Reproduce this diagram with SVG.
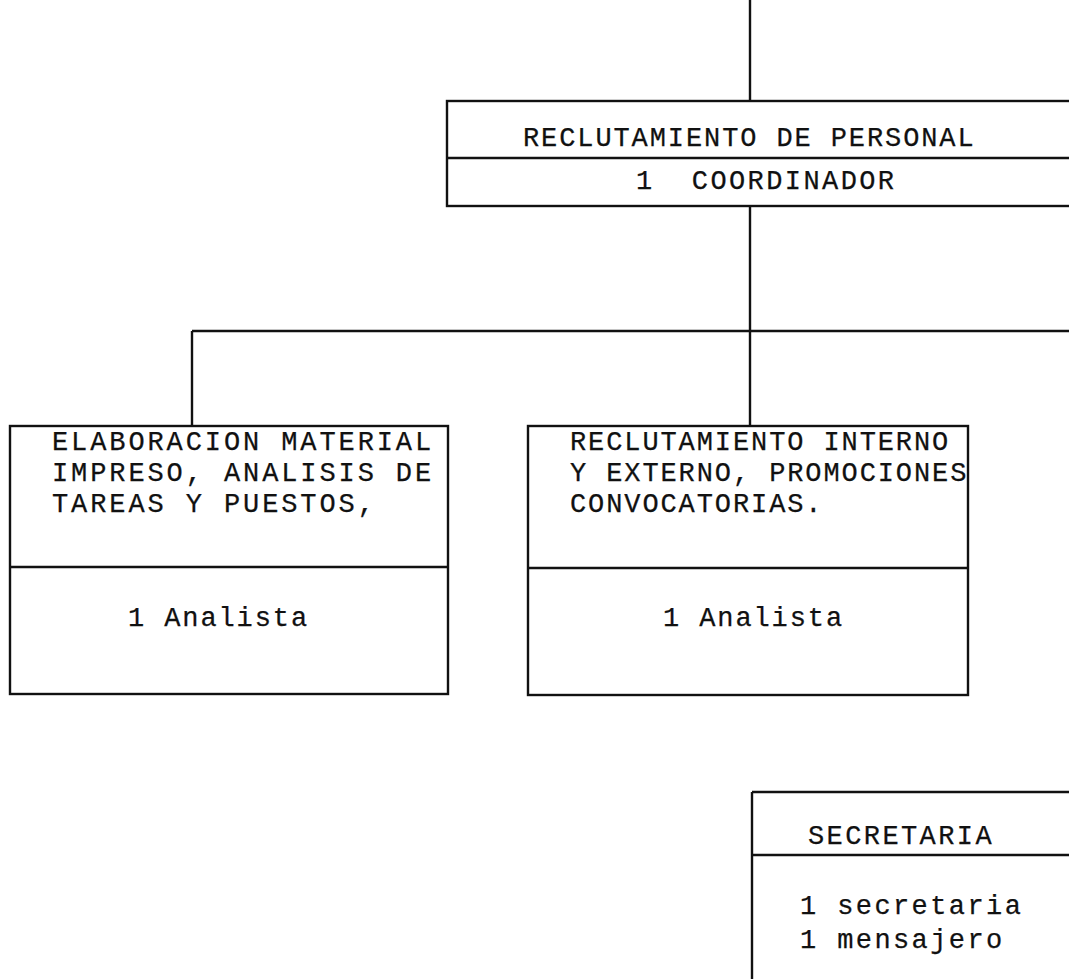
<svg xmlns="http://www.w3.org/2000/svg" width="1069" height="979" viewBox="0 0 1069 979">
  <style>
    .box { fill: none; stroke: #111; stroke-width: 2.4; }
    .line { fill: none; stroke: #111; stroke-width: 2.4; }
    .t { font-family: "Liberation Mono", "Courier New", monospace; font-size: 27px; letter-spacing: 1.9px; fill: #111; stroke: #111; stroke-width: 0.25; white-space: pre; }
    .wide { letter-spacing: 2.9px; }
    .mid { letter-spacing: 2.4px; }
  </style>
  <rect width="1069" height="979" fill="#fff"/>

  <!-- connectors -->
  <g id="connectors">
    <line class="line" x1="750" y1="0" x2="750" y2="101"/>
    <line class="line" x1="750" y1="206" x2="750" y2="426"/>
    <line class="line" x1="192" y1="331" x2="1075" y2="331"/>
    <line class="line" x1="192" y1="331" x2="192" y2="426"/>
  </g>

  <!-- head unit -->
  <g id="reclutamiento-personal">
    <rect class="box" x="447" y="101" width="640" height="105"/>
    <line class="line" x1="447" y1="158" x2="1075" y2="158"/>
    <text class="t" x="523" y="146">RECLUTAMIENTO DE PERSONAL</text>
    <text class="t mid" x="636" y="189" xml:space="preserve">1  COORDINADOR</text>
  </g>

  <!-- left unit -->
  <g id="elaboracion-material">
    <rect class="box" x="10" y="426" width="438" height="268"/>
    <line class="line" x1="10" y1="567" x2="448" y2="567"/>
    <text class="t wide" x="52" y="450">ELABORACION MATERIAL</text>
    <text class="t wide" x="52" y="481">IMPRESO, ANALISIS DE</text>
    <text class="t wide" x="52" y="512">TAREAS Y PUESTOS,</text>
    <text class="t" x="128" y="626">1 Analista</text>
  </g>

  <!-- middle unit -->
  <g id="reclutamiento-interno">
    <rect class="box" x="528" y="426" width="440" height="269"/>
    <line class="line" x1="528" y1="568" x2="968" y2="568"/>
    <text class="t" x="570" y="450">RECLUTAMIENTO INTERNO</text>
    <text class="t" x="570" y="481">Y EXTERNO, PROMOCIONES</text>
    <text class="t" x="570" y="512">CONVOCATORIAS.</text>
    <text class="t" x="663" y="626">1 Analista</text>
  </g>

  <!-- secretarial unit -->
  <g id="secretaria">
    <line class="line" x1="752" y1="792" x2="752" y2="985"/>
    <line class="line" x1="752" y1="792" x2="1075" y2="792"/>
    <line class="line" x1="752" y1="855" x2="1075" y2="855"/>
    <text class="t mid" x="808" y="844">SECRETARIA</text>
    <text class="t mid" x="800" y="914">1 secretaria</text>
    <text class="t mid" x="800" y="948">1 mensajero</text>
  </g>
</svg>
